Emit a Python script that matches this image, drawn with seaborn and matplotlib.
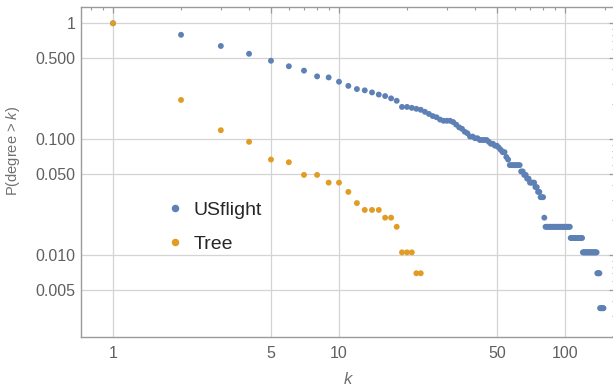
import matplotlib
matplotlib.use('Agg')
import matplotlib.pyplot as plt
import seaborn as sns
import pandas as pd
from matplotlib.ticker import FixedLocator, FixedFormatter, NullFormatter
from matplotlib.lines import Line2D

# ---- data ----
usflight_k = list(range(1, 149))
usflight_p = (
    [1.0, 0.7958, 0.6373, 0.5458, 0.4754, 0.4261, 0.3908, 0.3486, 0.3415, 0.3134,
     0.2887, 0.2711, 0.2641, 0.2535, 0.2430, 0.2359, 0.2254, 0.2148, 0.1901, 0.1901,
     0.1866, 0.1831, 0.1796, 0.1725, 0.1655, 0.1585, 0.1549, 0.1479, 0.1444, 0.1444,
     0.1444, 0.1408, 0.1338, 0.1268, 0.1232, 0.1162, 0.1127, 0.1056, 0.1056, 0.1021,
     0.1021, 0.0986, 0.0986, 0.0986, 0.0986, 0.0951, 0.0915, 0.0915, 0.0880, 0.0880,
     0.0845, 0.0810, 0.0775, 0.0775, 0.0704, 0.0669]
    + [0.0599] * 7          # k = 57..63
    + [0.0528] * 2          # 64..65
    + [0.0493] * 2          # 66..67
    + [0.0458] * 2          # 68..69
    + [0.0423] * 4          # 70..73
    + [0.0387] * 2          # 74..75
    + [0.0352] * 2          # 76..77
    + [0.0317] * 3          # 78..80
    + [0.0211]              # 81
    + [0.0176] * 24         # 82..105
    + [0.0141] * 14         # 106..119
    + [0.0106] * 19         # 120..138
    + [0.0070] * 4          # 139..142
    + [0.0035] * 6          # 143..148
)

tree_k = list(range(1, 24))
tree_p = [1.0, 0.2183, 0.1197, 0.0951, 0.0669, 0.0634, 0.0493, 0.0493, 0.0423, 0.0423,
          0.0352, 0.0282, 0.0246, 0.0246, 0.0246, 0.0211, 0.0211, 0.0176, 0.0106, 0.0106,
          0.0106, 0.0070, 0.0070]

series_names = ["USflight", "Tree"]
colors = ["#5E81B5", "#E19C24"]

x_major = [1, 5, 10, 50, 100]
x_major_labels = ["1", "5", "10", "50", "100"]
x_minor = [0.8, 0.9, 2, 3, 4, 6, 7, 8, 9, 20, 30, 40, 60, 70, 80, 90, 150]
y_major = [0.005, 0.01, 0.05, 0.1, 0.5, 1]
y_major_labels = ["0.005", "0.010", "0.050", "0.100", "0.500", "1"]
y_minor = [0.002, 0.003, 0.004, 0.006, 0.007, 0.008, 0.009,
           0.02, 0.03, 0.04, 0.06, 0.07, 0.08, 0.09,
           0.2, 0.3, 0.4, 0.6, 0.7, 0.8, 0.9]

df = pd.DataFrame({
    "k": usflight_k + tree_k,
    "p": usflight_p + tree_p,
    "series": [series_names[0]] * len(usflight_k) + [series_names[1]] * len(tree_k),
})

# ---- style ----
sns.set_style("white")
plt.rcParams['font.family'] = ['Liberation Sans', 'DejaVu Sans']
plt.rcParams['mathtext.fontset'] = 'custom'
plt.rcParams['mathtext.rm'] = 'Liberation Sans'
plt.rcParams['mathtext.it'] = 'Liberation Sans:italic'

W, H = 613, 389
fig = plt.figure(figsize=(W / 100, H / 100), dpi=100)
L, R, T, B = 81.3, 614.5, 6.7, 336.7
ax = fig.add_axes([L / W, 1 - B / H, (R - L) / W, (B - T) / H])

ax.set_xscale('log')
ax.set_yscale('log')
ax.set_xlim(0.724, 165.6)
ax.set_ylim(0.001987, 1.39)

ax.set_axisbelow(True)
sns.scatterplot(data=df, x="k", y="p", hue="series", hue_order=series_names,
                palette=colors, s=18, linewidth=0, legend=False, ax=ax, zorder=3)

ax.xaxis.set_major_locator(FixedLocator(x_major))
ax.xaxis.set_major_formatter(FixedFormatter(x_major_labels))
ax.xaxis.set_minor_locator(FixedLocator(x_minor))
ax.xaxis.set_minor_formatter(NullFormatter())
ax.yaxis.set_major_locator(FixedLocator(y_major))
ax.yaxis.set_major_formatter(FixedFormatter(y_major_labels))
ax.yaxis.set_minor_locator(FixedLocator(y_minor))
ax.yaxis.set_minor_formatter(NullFormatter())

ax.grid(True, which='major', color='#d4d4d4', linewidth=0.9)
for sp in ax.spines.values():
    sp.set_color('#9a9a9a')
    sp.set_linewidth(1.0)

ax.tick_params(which='both', direction='in', top=True, right=True,
               color='#9a9a9a', labelcolor='#606060', labelsize=11.5)
ax.tick_params(which='major', length=4, width=0.9)
ax.tick_params(which='minor', length=2.2, width=0.8)
ax.tick_params(axis='x', which='major', pad=7)
ax.tick_params(axis='y', which='major', pad=4)
ax.set_xlabel("")
ax.set_ylabel("")

fig.text(13 / W, 1 - 151 / H, "P(degree > $k$)", rotation=90, ha='center', va='center',
         color='#707070', fontsize=10.5)
fig.text(348 / W, 1 - 380 / H, "k", style='italic', ha='center', va='center',
         color='#707070', fontsize=12)

handles = [Line2D([], [], linestyle='none', marker='o', markersize=5.4,
                  markerfacecolor=c, markeredgewidth=0) for c in colors]
ax.legend(handles, series_names, loc='center left',
          bbox_to_anchor=((165 - L) / (R - L), 1 - (227 - T) / (B - T)),
          frameon=False, fontsize=14, handletextpad=0.45, labelspacing=0.82,
          handlelength=1.0, borderpad=0, borderaxespad=0)

fig.savefig("out.png", dpi=100)
